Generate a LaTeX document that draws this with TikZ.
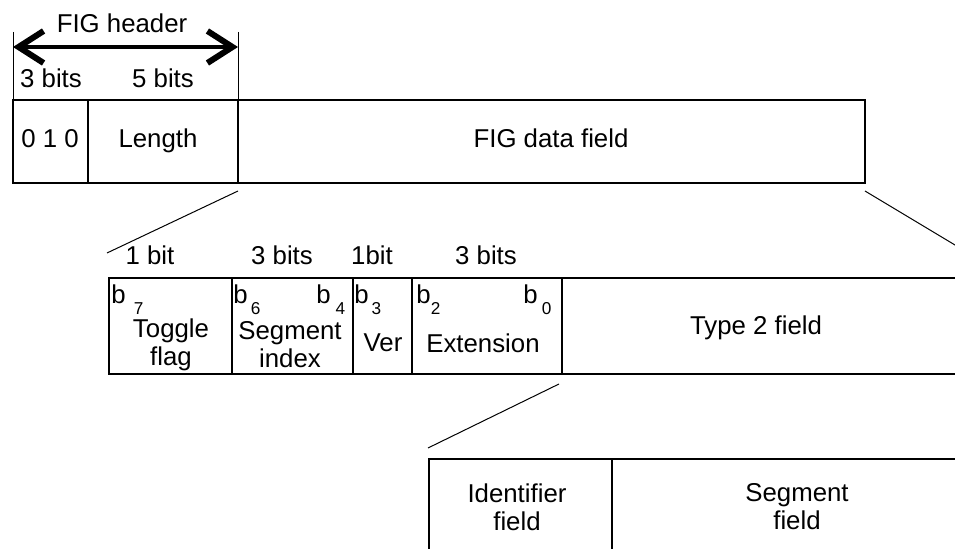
\documentclass[tikz,border=0pt]{standalone}
\usepackage{fontspec}
\setmainfont{Liberation Sans}
\usetikzlibrary{arrows.meta}
\tikzset{
  box/.style={draw=black, line width=1.3pt, line join=miter},
  thin/.style={draw=black, line width=0.5pt},
  lab/.style={font=\fontsize{12.9}{14}\selectfont, inner sep=0pt, align=center},
  labb/.style={lab, anchor=base},
  bl/.style={font=\fontsize{12.9}{13}\selectfont, inner sep=0pt, anchor=base west},
  barb/.tip={Straight Barb[length=12.5pt,width=16pt,line width=3pt]},
  span/.style={line width=1.7pt, barb-barb},
}
\newcommand{\bsub}[2]{b\hspace{#1}\raisebox{-5.5pt}{\fontsize{8.6}{8.6}\selectfont #2}}

\begin{document}
\begin{tikzpicture}[x=0.5pt,y=-0.5pt]
  \clip (0,0) rectangle (955,549);
  % FIG header
  \coordinate (hdrL) at (13,47);
  \coordinate (hdrR) at (238,47);
  \draw[thin] (13,32) -- (13,100);
  \draw[thin] (238,32) -- (238,100);
  \draw[span] (hdrL) -- (hdrR);
  \node[labb] (hdr) at (122,33) {FIG header};
  \node[labb] (w3) at (51,88) {3 bits};
  \node[labb] (w5) at (163,88) {5 bits};
  % first row
  \draw[box] (13,100) rectangle (865,183);
  \draw[box] (88,100) -- (88,183);
  \draw[box] (238,100) -- (238,183);
  \node[labb] (sync) at (50,148) {0 1 0};
  \node[labb] (len) at (158,148) {Length};
  \node[labb] (data) at (551,148) {FIG data field};
  % zoom lines
  \coordinate (z1a) at (238,191);
  \coordinate (z1b) at (107,253);
  \coordinate (z2a) at (865,191);
  \coordinate (z2b) at (1000,272);
  \draw[thin] (z1a) -- (z1b);
  \draw[thin] (z2a) -- (z2b);
  % second row
  \node[labb] (w1a) at (150,265) {1 bit};
  \node[labb] (w3a) at (282,265) {3 bits};
  \node[labb] (w1b) at (372,265) {1bit};
  \node[labb] (w3b) at (486,265) {3 bits};
  \draw[box] (109,278) rectangle (1000,374);
  \foreach \x in {232,353,412,562}
    \draw[box] (\x,278) -- (\x,374);
  \node[bl] (b7) at (111,304) {\bsub{4pt}{7}};
  \node[bl] (b6) at (233,304) {\bsub{1.5pt}{6}};
  \node[bl] (b4) at (316,304) {\bsub{2.5pt}{4}};
  \node[bl] (b3) at (354,304) {\bsub{1.5pt}{3}};
  \node[bl] (b2) at (416,304) {\bsub{0pt}{2}};
  \node[bl] (b0) at (523,304) {\bsub{2pt}{0}};
  \node[lab] (tog) at (171,345) {Toggle\\flag};
  \node[lab] (seg) at (290,345) {Segment\\index};
  \node[labb] (ver) at (383,352) {Ver};
  \node[labb] (ext) at (483,353) {Extension};
  \node[labb] (type) at (756,335) {Type 2 field};
  % third row
  \coordinate (z3a) at (559,384);
  \coordinate (z3b) at (428,448);
  \draw[thin] (z3a) -- (z3b);
  \draw[box] (429,459) rectangle (1000,600);
  \draw[box] (612,459) -- (612,600);
  \node[lab] (ident) at (517,507) {Identifier\\field};
  \node[lab] (segf) at (797,507) {Segment\\field};
\end{tikzpicture}
\end{document}
